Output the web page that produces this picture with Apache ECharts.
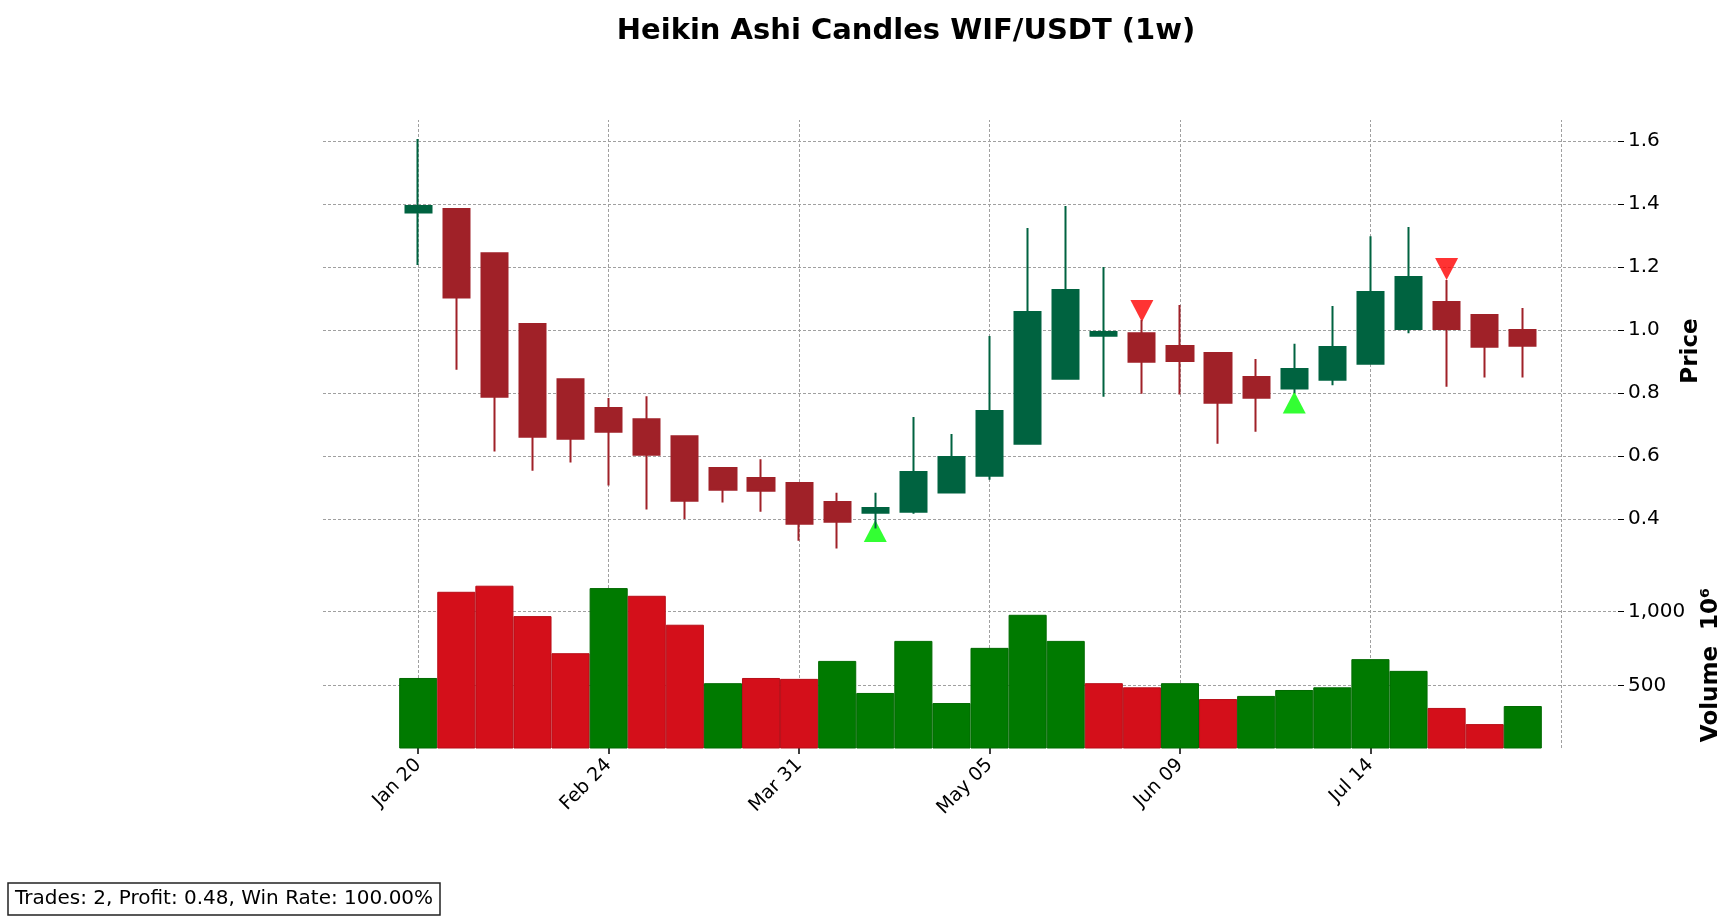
<!DOCTYPE html>
<html>
<head>
<meta charset="utf-8">
<script src="https://cdn.jsdelivr.net/npm/echarts@6/dist/echarts.min.js"></script>
<style>
html, body {margin: 0; padding: 0; background: #fff;}
#main {width: 1735px; height: 921px;}
</style>
</head>
<body>
<div id="main"></div>
<script>
// weekly categories, two blank weeks before and two after the data
var categories = ['Jan 06', 'Jan 13',
    'Jan 20', 'Jan 27', 'Feb 03', 'Feb 10', 'Feb 17', 'Feb 24', 'Mar 03', 'Mar 10', 'Mar 17', 'Mar 24',
    'Mar 31', 'Apr 07', 'Apr 14', 'Apr 21', 'Apr 28', 'May 05', 'May 12', 'May 19', 'May 26', 'Jun 02',
    'Jun 09', 'Jun 16', 'Jun 23', 'Jun 30', 'Jul 07', 'Jul 14', 'Jul 21', 'Jul 28', 'Aug 04', 'Aug 11',
    'Aug 18', 'Aug 25'];
var padBefore = 2;

// heikin ashi values
var haOpen = [1.373, 1.384, 1.244, 1.019, 0.844, 0.752, 0.717, 0.663, 0.562, 0.530,
    0.514, 0.454, 0.420, 0.423, 0.484, 0.537, 0.639, 0.845, 0.982, 0.990,
    0.949, 0.927, 0.851, 0.814, 0.842, 0.893, 1.003, 1.089, 1.048, 1.000];
var haClose = [1.394, 1.103, 0.788, 0.661, 0.655, 0.677, 0.604, 0.458, 0.493, 0.490,
    0.385, 0.391, 0.435, 0.549, 0.597, 0.743, 1.057, 1.127, 0.994, 0.899,
    0.902, 0.769, 0.785, 0.876, 0.946, 1.121, 1.168, 1.003, 0.947, 0.950];
var haLow = [1.206, 0.874, 0.614, 0.553, 0.579, 0.506, 0.430, 0.400, 0.452, 0.423,
    0.331, 0.306, 0.370, 0.417, 0.484, 0.525, 0.639, 0.845, 0.788, 0.798,
    0.795, 0.639, 0.677, 0.800, 0.825, 0.893, 0.990, 0.820, 0.849, 0.849];
var haHigh = [1.606, 1.384, 1.244, 1.019, 0.844, 0.784, 0.790, 0.663, 0.562, 0.590,
    0.514, 0.483, 0.483, 0.724, 0.670, 0.981, 1.324, 1.394, 1.200, 1.032,
    1.079, 0.927, 0.908, 0.956, 1.076, 1.298, 1.327, 1.159, 1.048, 1.070];

// volume in millions, and whether the raw close went up that week
var volume = [551, 1132, 1173, 968, 718, 1157, 1105, 910, 516, 551,
    545, 666, 450, 801, 382, 754, 977, 801, 516, 488,
    516, 409, 430, 470, 488, 678, 599, 349, 240, 362];
var volumeUp = [1, 0, 0, 0, 0, 1, 0, 0, 1, 0,
    0, 1, 1, 1, 1, 1, 1, 1, 0, 0,
    1, 0, 1, 1, 1, 1, 1, 0, 0, 1];

// trade signals: candle index and price
var buyIdx = [12, 23];
var buyPrice = [0.362, 0.770];
var sellIdx = [19, 27];
var sellPrice = [1.060, 1.194];

var gridIdx = [0, 5, 10, 15, 20, 25, 30];
var labelIdx = [0, 5, 10, 15, 20, 25];
var priceTicks = [0.4, 0.6, 0.8, 1.0, 1.2, 1.4, 1.6];
var volumeTicks = [500, 1000];

var upColor = '#006340', downColor = '#a02128';
var volGreen = '#007a00', volRed = '#d40f1a';

var candleData = [], volData = [];
for (var i = 0; i < categories.length; i++) {
    var k = i - padBefore;
    if (k >= 0 && k < haOpen.length) {
        candleData.push([haOpen[k], haClose[k], haLow[k], haHigh[k]]);
        volData.push({
            value: volume[k],
            itemStyle: {color: volumeUp[k] ? volGreen : volRed,
                borderColor: volumeUp[k] ? '#006a00' : '#b80d17'}
        });
    } else {
        candleData.push('-');
        volData.push('-');
    }
}
var buyData = buyIdx.map(function (d, j) { return [categories[d + padBefore], buyPrice[j]]; });
var sellData = sellIdx.map(function (d, j) { return [categories[d + padBefore], sellPrice[j]]; });

var gridLineStyle = {color: '#a0a0a0', type: [3, 2], width: 1};
function vLines() {
    return gridIdx.map(function (d) { return {xAxis: categories[d + padBefore]}; });
}
function hLines(vals) {
    return vals.map(function (v) { return {yAxis: v}; });
}
function isLabel(idx) {
    return labelIdx.indexOf(idx - padBefore) >= 0;
}

var chart = echarts.init(document.getElementById('main'));
chart.setOption({
    animation: false,
    backgroundColor: '#fff',
    textStyle: {fontFamily: 'DejaVu Sans'},
    title: [{
        text: 'Heikin Ashi Candles WIF/USDT (1w)',
        left: 901, top: 12, textAlign: 'center',
        textStyle: {fontSize: 29, fontWeight: 'bold', color: '#000', fontFamily: 'DejaVu Sans'}
    }, {
        text: 'Trades: 2, Profit: 0.48, Win Rate: 100.00%',
        left: 8, top: 883,
        borderColor: '#222', borderWidth: 1.5, padding: [6, 7, 6, 7],
        textStyle: {fontSize: 20, fontWeight: 'normal', color: '#000', fontFamily: 'DejaVu Sans'}
    }],
    grid: [
        {left: 323, right: 117, top: 120, height: 462},
        {left: 323, right: 117, top: 582, height: 166}
    ],
    xAxis: [{
        type: 'category', gridIndex: 0, data: categories, boundaryGap: true,
        axisLine: {show: false}, axisTick: {show: false}, axisLabel: {show: false}, splitLine: {show: false}
    }, {
        type: 'category', gridIndex: 1, data: categories, boundaryGap: true,
        axisLine: {show: false},
        axisTick: {show: true, alignWithLabel: true, length: 6, lineStyle: {color: '#000', width: 1.5},
            interval: function (idx) { return isLabel(idx); }},
        axisLabel: {
            interval: function (idx) { return isLabel(idx); },
            rotate: 45, fontSize: 19, color: '#000', margin: 14
        },
        splitLine: {show: false}
    }],
    yAxis: [{
        type: 'value', gridIndex: 0, position: 'right', min: 0.2, max: 1.6667,
        axisLine: {show: false}, splitLine: {show: false},
        axisTick: {show: true, length: 6, lineStyle: {color: '#000'},
            customValues: priceTicks},
        axisLabel: {fontSize: 20, color: '#000', margin: 10, customValues: priceTicks,
            formatter: function (v) { return v.toFixed(1); }},
        name: 'Price', nameLocation: 'middle', nameGap: 62, nameRotate: 90,
        nameTextStyle: {fontSize: 23, fontWeight: 'bold', color: '#000'}
    }, {
        type: 'value', gridIndex: 1, position: 'right', min: 79, max: 1198,
        axisLine: {show: false}, splitLine: {show: false},
        axisTick: {show: true, length: 6, lineStyle: {color: '#000'}, customValues: volumeTicks},
        axisLabel: {fontSize: 20, color: '#000', margin: 10, customValues: volumeTicks},
        name: 'Volume  10⁶', nameLocation: 'middle', nameGap: 82, nameRotate: 90,
        nameTextStyle: {fontSize: 23, fontWeight: 'bold', color: '#000',
            rich: {}}
    }],
    series: [{
        type: 'candlestick', xAxisIndex: 0, yAxisIndex: 0,
        data: candleData, barWidth: '70%',
        itemStyle: {color: upColor, color0: downColor, borderColor: upColor, borderColor0: downColor, borderWidth: 2},
        markLine: {
            silent: true, symbol: 'none', label: {show: false}, z: 0,
            lineStyle: gridLineStyle,
            data: vLines().concat(hLines(priceTicks))
        }
    }, {
        type: 'scatter', xAxisIndex: 0, yAxisIndex: 0, data: buyData,
        symbol: 'triangle', symbolSize: [23, 22], itemStyle: {color: '#00ff00'}, z: 1
    }, {
        type: 'scatter', xAxisIndex: 0, yAxisIndex: 0, data: sellData,
        symbol: 'triangle', symbolRotate: 180, symbolSize: [23, 22], itemStyle: {color: '#ff0000'}, z: 1
    }, {
        type: 'bar', xAxisIndex: 1, yAxisIndex: 1, data: volData,
        barWidth: '100%', barCategoryGap: 0, itemStyle: {borderWidth: 1},
        markLine: {
            silent: true, symbol: 'none', label: {show: false}, z: 0,
            lineStyle: gridLineStyle,
            data: vLines().concat(hLines(volumeTicks))
        }
    }]
});
</script>
</body>
</html>
